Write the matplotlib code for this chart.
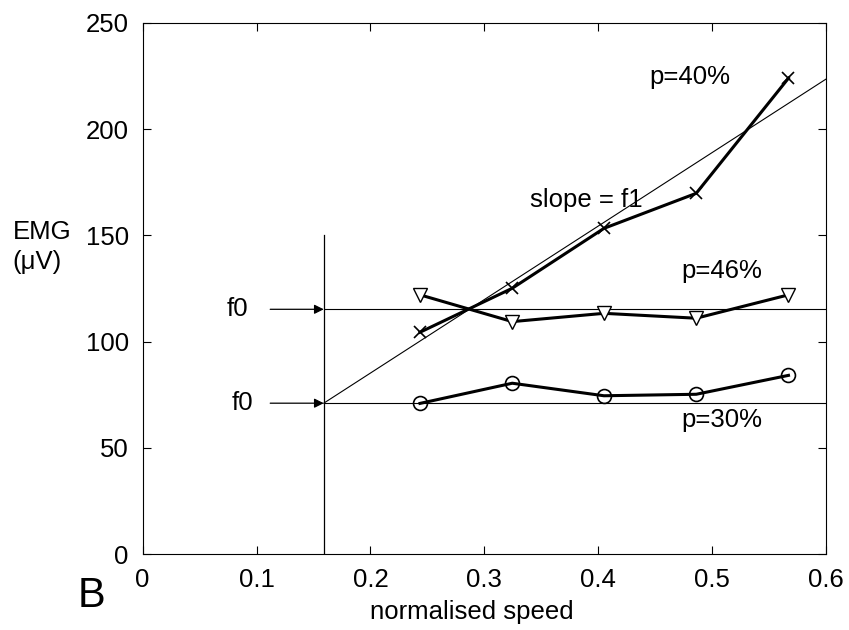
import numpy as np
import matplotlib.pyplot as plt

plt.rcParams['font.family'] = ['Liberation Sans', 'DejaVu Sans']

speed = [0.2435, 0.3245, 0.405, 0.486, 0.567]
emg_p30 = [70.9, 80.4, 74.5, 75.2, 84.1]
emg_p46 = [122.0, 109.4, 113.3, 111.0, 122.0]
emg_p40 = [104.4, 125.1, 153.3, 169.8, 224.0]

x0 = 0.159        # speed where the fit starts
f0_low = 71.0
f0_high = 115.2
f1 = 346.0        # slope of the thin line

fs = 18.5

fig = plt.figure(figsize=(8.49, 6.3), dpi=100)
ax = fig.add_axes([0.168, 0.1206, 0.805, 0.843])

# reference lines
ax.plot([x0, x0], [0, 150], color='black', lw=0.9)
ax.plot([x0, 0.6], [f0_low, f0_low], color='black', lw=0.8)
ax.plot([x0, 0.6], [f0_high, f0_high], color='black', lw=0.8)
ax.plot([x0, 0.6], [f0_low, f0_low + f1 * (0.6 - x0)], color='black', lw=0.8)

# data
ax.plot(speed, emg_p30, color='black', lw=2.2, marker='o', ms=10, mfc='none', mew=1.2)
ax.plot(speed, emg_p46, color='black', lw=2.2, marker='v', ms=10, mfc='white', mew=1.0)
ax.plot(speed, emg_p40, color='black', lw=2.2, marker='x', ms=9, mew=1.2)

# f0 arrows
for y in (f0_high, f0_low):
    ax.annotate('', xy=(x0, y), xytext=(x0 - 0.047, y),
                arrowprops=dict(arrowstyle='-|>', color='black', lw=0.9,
                                mutation_scale=14, shrinkA=0, shrinkB=0))
ax.text(0.074, f0_high, 'f0', fontsize=fs, va='center', ha='left')
ax.text(0.078, f0_low, 'f0', fontsize=fs, va='center', ha='left')

ax.text(0.445, 224.6, 'p=40%', fontsize=fs, va='center')
ax.text(0.34, 166.7, 'slope = f1', fontsize=fs, va='center')
ax.text(0.473, 133, 'p=46%', fontsize=fs, va='center')
ax.text(0.473, 63.1, 'p=30%', fontsize=fs, va='center')

ax.set_xlim(0, 0.6)
ax.set_ylim(0, 250)
ax.set_xticks([0, 0.1, 0.2, 0.3, 0.4, 0.5, 0.6])
ax.set_xticklabels(['0', '0.1', '0.2', '0.3', '0.4', '0.5', '0.6'])
ax.set_yticks([0, 50, 100, 150, 200, 250])
ax.tick_params(direction='in', top=True, right=True, labelsize=fs, length=6, pad=10)
ax.set_xlabel('normalised speed', fontsize=fs)
ax.xaxis.set_label_coords(0.482, -0.109, transform=ax.transAxes)
ax.xaxis.label.set_va('center')

fig.text(0.015, 0.608, 'EMG\n(μV)', fontsize=fs, va='center', ha='left', linespacing=1.3)
fig.text(0.092, 0.022, 'B', fontsize=30, va='bottom', ha='left')

plt.savefig('out.png', dpi=100)
